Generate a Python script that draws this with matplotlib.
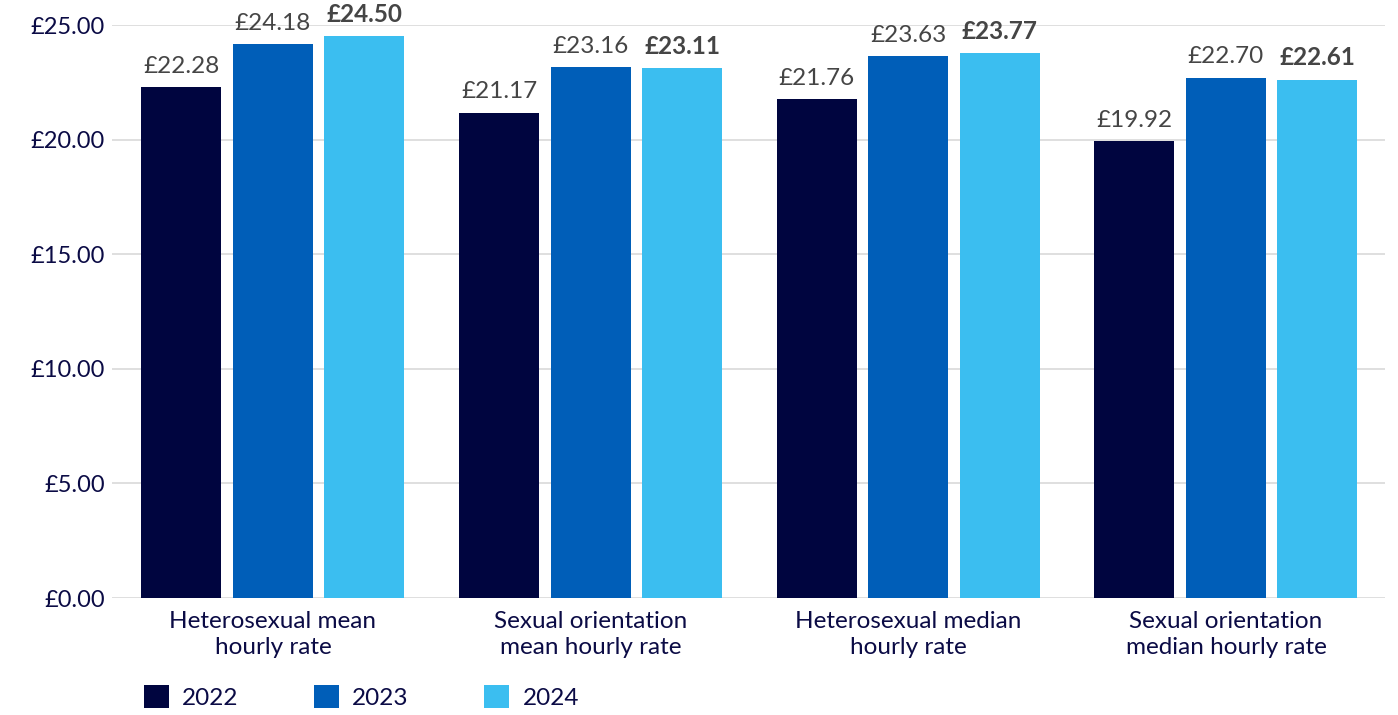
import numpy as np
import matplotlib.pyplot as plt
from matplotlib.patches import Patch

# Dados
categorias = ["Heterosexual mean\nhourly rate", "Sexual orientation\nmean hourly rate",
              "Heterosexual median\nhourly rate", "Sexual orientation\nmedian hourly rate"]
anos = ["2022", "2023", "2024"]
v2022 = [22.28, 21.17, 21.76, 19.92]
v2023 = [24.18, 23.16, 23.63, 22.70]
v2024 = [24.50, 23.11, 23.77, 22.61]
yticks = [0, 5, 10, 15, 20, 25]

cores = ["#00053f", "#005eb8", "#3bbef0"]

plt.rcParams['font.family'] = ['Lato', 'DejaVu Sans']

fig = plt.figure(figsize=(13.98, 7.15), dpi=100)
ax = fig.add_axes([0.080, 0.1636, 0.911, 0.8014])

x = np.arange(len(categorias))
largura = 0.252
passo = 0.288

for i, (vals, cor) in enumerate(zip([v2022, v2023, v2024], cores)):
    pos = x + (i - 1) * passo
    ax.bar(pos, vals, width=largura, color=cor, zorder=3)
    for px, v in zip(pos, vals):
        peso = 'bold' if i == 2 else 'normal'
        ax.text(px, v + 0.45, f"£{v:.2f}", ha='center', va='bottom',
                fontsize=17.5, color='#454545', fontweight=peso, clip_on=False)

ax.set_xlim(-0.507, 3.502)
ax.set_ylim(0, 25)
ax.set_yticks(yticks)
ax.set_yticklabels([f"£{t:.2f}" for t in yticks])
ax.set_xticks(x)
ax.set_xticklabels(categorias)
ax.grid(axis='y', color='#d9d9d9', linewidth=1.2, zorder=0)
for s in ax.spines.values():
    s.set_visible(False)
ax.tick_params(axis='both', length=0, colors='#0b0b45')
ax.tick_params(axis='y', pad=5, labelsize=17)
ax.tick_params(axis='x', pad=9, labelsize=17.5)
for lbl in ax.get_xticklabels():
    lbl.set_linespacing(1.32)

handles = [Patch(facecolor=c, label=a) for c, a in zip(cores, anos)]
fig.legend(handles=handles, loc='lower left', bbox_to_anchor=(0.087, -0.022), ncol=3,
           frameon=False, fontsize=17.5, handlelength=1.03, handleheight=1.03,
           columnspacing=3.1, handletextpad=0.55, labelcolor='#0b0b45')

fig.savefig("out.png", dpi=100)
